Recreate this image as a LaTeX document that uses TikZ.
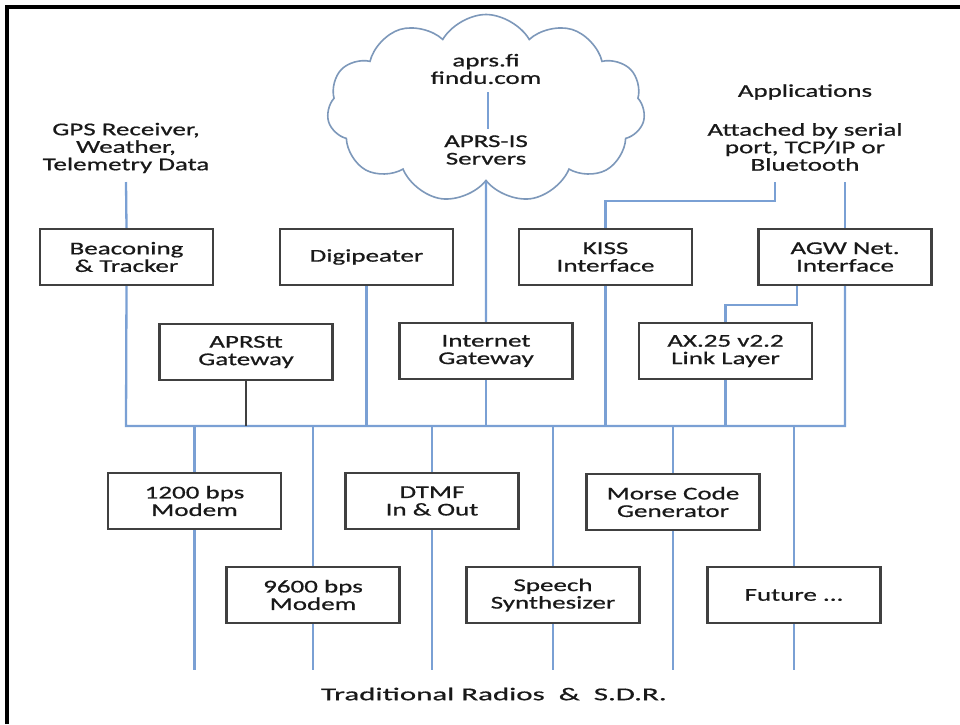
\documentclass[tikz,border=0pt]{standalone}
\usepackage{fontspec}
\setmainfont[FakeStretch=1.5, RawFeature={embolden=0.7}]{Carlito}
\newfontfamily\widefont[FakeStretch=1.72, RawFeature={embolden=0.7}]{Carlito}
\usetikzlibrary{shapes.symbols,calc}
\definecolor{linkblue}{RGB}{122,160,212}
\definecolor{cloudblue}{RGB}{125,152,186}
\definecolor{boxgray}{RGB}{64,64,64}
\definecolor{txt}{RGB}{25,25,25}
\tikzset{
  box/.style={draw=boxgray, line width=2.2pt, minimum width=173pt, minimum height=56pt, inner sep=0pt, align=center, text=txt, font=\fontsize{18}{17.5}\selectfont},
  label/.style={align=center, text=txt, inner sep=0pt, font=\fontsize{18}{17.5}\selectfont},
  link/.style={draw=linkblue, line width=2.3pt},
  darklink/.style={draw=boxgray, line width=2.3pt},
  frame/.style={draw=black, line width=3.2pt}
}
\begin{document}
\begin{tikzpicture}[x=1pt,y=-1pt]
\useasboundingbox (0,0) rectangle (960,724);
\fill[white] (0,0) rectangle (960,724);
% frame
\coordinate (fTL) at (7,7);
\coordinate (fTR) at (960,7);
\coordinate (fBL) at (7,724);
\draw[frame] (fBL) -- (fTL) -- (fTR);

% cloud
\node[cloud, cloud puffs=11, cloud puff arc=120, aspect=1.75, draw=cloudblue, line width=1.6pt, minimum width=318pt, minimum height=188pt, inner sep=0pt] (cloud) at (486,108.5) {};
\node[label] (web) at (486,69) {aprs.fi\\findu.com};
\node[label] (aprsis) at (486,150) {APRS-IS\\Servers};
\draw[link] ($(web.south)+(2,8)$) -- ($(aprsis.north)+(2,-6)$);

% text labels
\node[label] (gps) at (126,148) {GPS Receiver,\\Weather,\\Telemetry Data};
\node[label] (apptitle) at (805,92) {Applications};
\node[label] (apps) at (805,147) {Attached by serial\\port, TCP/IP or\\Bluetooth};
\node[label, font=\widefont\fontsize{18}{17.5}\selectfont] (radios) at (494,694) {Traditional Radios\ \ \&\ \ S.D.R.};

% boxes
\node[box] (beacon) at (126.5,257) {Beaconing\\\& Tracker};
\node[box] (digi) at (366.5,257) {Digipeater};
\node[box] (kiss) at (605.5,257) {KISS\\Interface};
\node[box] (agw) at (845,257) {AGW Net.\\Interface};
\node[box] (aprstt) at (246,352) {APRStt\\Gateway};
\node[box] (igate) at (486,351) {Internet\\Gateway};
\node[box] (ax25) at (725.5,351) {AX.25 v2.2\\Link Layer};
\node[box] (m1200) at (194.5,501) {1200 bps\\Modem};
\node[box] (dtmf) at (432,501) {DTMF\\In \& Out};
\node[box] (morse) at (673,502) {Morse Code\\Generator};
\node[box] (m9600) at (313,595) {9600 bps\\Modem};
\node[box] (speech) at (553,595) {Speech\\Synthesizer};
\node[box] (future) at (794,595) {Future ...};

% bus and end coordinates
\coordinate (busL) at (126,426);
\coordinate (busR) at (845,426);
\coordinate (bottom) at (0,670);
\coordinate (a1) at (775,182);
\coordinate (a2) at (845,182);
\coordinate (g1) at (126,182);

% top feeds
\draw[link] (g1) -- (beacon.north);
\draw[link] (a1) -- ++(0,19) -| (kiss.north);
\draw[link] (a2) -- (agw.north);
\draw[link] (cloud.south) -- (igate.north);

% into bus
\draw[link] (beacon.south) -- (busL) -- (busR) -- (agw.south);
\draw[link] (digi.south) -- (digi.south |- busL);
\draw[link] (kiss.south) -- (kiss.south |- busL);
\draw[link] (igate.south) -- (igate.south |- busL);
\draw[link] (ax25.south) -- (ax25.south |- busL);
\draw[link] (ax25.north) -- ++(0,-17) -| ($(agw.south)+(-48,0)$);
\draw[darklink] (aprstt.south) -- (aprstt.south |- busL);

% out of bus
\foreach \b in {m1200,dtmf,morse,m9600,speech,future}{
  \draw[link] (\b.north |- busL) -- (\b.north);
  \draw[link] (\b.south) -- (\b.south |- bottom);
}
\end{tikzpicture}
\end{document}
